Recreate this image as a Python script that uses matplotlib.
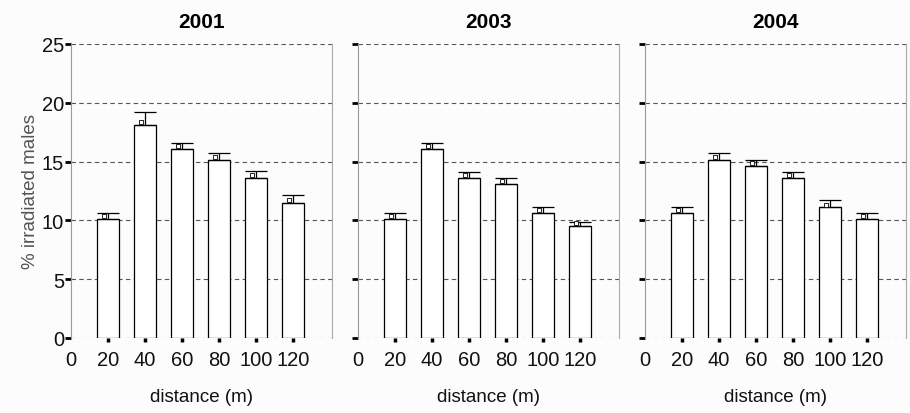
import numpy as np
import matplotlib
matplotlib.use("Agg")
import matplotlib.pyplot as plt

plt.rcParams['font.family'] = ['Liberation Sans', 'DejaVu Sans']

years = ['2001', '2003', '2004']
distance = [20, 40, 60, 80, 100, 120]

# mean % irradiated males, and the top of each error bar
mean_2001 = [10.1, 18.1, 16.1, 15.1, 13.6, 11.5]
err_2001 = [10.6, 19.2, 16.6, 15.7, 14.2, 12.2]
mean_2003 = [10.1, 16.1, 13.6, 13.1, 10.6, 9.5]
err_2003 = [10.6, 16.6, 14.1, 13.6, 11.1, 9.9]
mean_2004 = [10.6, 15.1, 14.6, 13.6, 11.1, 10.1]
err_2004 = [11.1, 15.7, 15.1, 14.1, 11.7, 10.6]

means = [mean_2001, mean_2003, mean_2004]
tops = [err_2001, err_2003, err_2004]

fig = plt.figure(figsize=(9.1, 4.14), dpi=100)
fig.patch.set_facecolor('#fcfcfc')

lefts = [71/910, 358/910, 645/910]
for i, yr in enumerate(years):
    ax = fig.add_axes([lefts[i], 1 - 339/414, 261/910, 294/414])
    ax.set_facecolor('#fcfcfc')
    m = np.array(means[i])
    e = np.array(tops[i]) - m
    ax.bar(distance, m, width=12, color='white', edgecolor='black', linewidth=0.9, zorder=3)
    ax.errorbar(distance, m, yerr=[np.zeros_like(e), e], fmt='none', ecolor='black',
                elinewidth=0.9, capsize=8, capthick=0.9, zorder=4)
    ax.plot(np.array(distance) - 2.2, m + 0.25, 's', ms=2.5, mfc='white', mec='black',
            mew=0.6, zorder=5)
    for yv in [0, 5, 10, 15, 20, 25]:
        ax.axhline(yv, color='#555555', lw=0.8, ls=(0, (4, 3)), zorder=1)
    ax.set_xlim(0, 141)
    ax.set_ylim(0, 25)
    ax.set_yticks([0, 5, 10, 15, 20, 25])
    ax.set_xticks([0] + distance)
    ax.set_xticklabels(['0'] + [str(d) for d in distance], fontsize=14.5, color='#111111')
    ax.xaxis.get_major_ticks()[0].tick1line.set_visible(False)
    ax.tick_params(axis='x', length=3, width=2.5, pad=6, color='black')
    ax.tick_params(axis='y', length=4, width=2, pad=1, color='black', labelsize=14.5,
                   labelcolor='#111111')
    if i > 0:
        ax.set_yticklabels([])
    else:
        ax.set_ylabel('% irradiated males', fontsize=13.5, color='#555555', labelpad=2)
    for s in ['top', 'bottom']:
        ax.spines[s].set_visible(False)
    ax.spines['left'].set_color('#999999')
    ax.spines['right'].set_color('#aaaaaa')
    ax.set_xlabel('distance (m)', fontsize=13.5, color='#111111', labelpad=13)
    ax.set_title(yr, fontsize=15, fontweight='bold', pad=12)

fig.savefig('out.png', dpi=100, facecolor=fig.get_facecolor())
